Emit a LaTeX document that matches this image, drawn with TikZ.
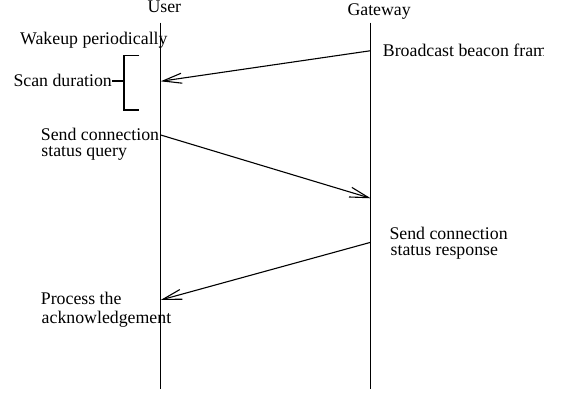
\documentclass[tikz,border=0pt]{standalone}
\usepackage{fontspec}
\setmainfont{Liberation Serif}
\usetikzlibrary{arrows.meta}
\begin{document}
\begin{tikzpicture}[x=1pt,y=-1pt,
  txt/.style={anchor=base west, inner sep=0pt, font=\fontsize{17.8}{16.5}\selectfont},
  lifeline/.style={line width=1.1pt},
  msg/.style={line width=1.1pt, -{Straight Barb[length=19pt,width=10pt,line width=1.1pt]}},
  bracketline/.style={line width=1.1pt}]
\useasboundingbox (0,0) rectangle (562,393);

% participants
\node[txt] (user) at (147.3,12.5) {User};
\node[txt] (gw) at (347.3,15.7) {Gateway};

% lifelines
\coordinate (uTop) at (160.7,22.7);
\coordinate (uBot) at (160.7,389);
\coordinate (gTop) at (370.7,22.7);
\coordinate (gBot) at (370.7,389);
\draw[lifeline] (uTop) -- (uBot);
\draw[lifeline] (gTop) -- (gBot);

% message end points on the lifelines
\coordinate (g1) at (370.7,50.7);
\coordinate (u1) at (160.7,81.3);
\coordinate (u2) at (160.7,135);
\coordinate (g2) at (370.7,198.3);
\coordinate (g3) at (370.7,242.3);
\coordinate (u3) at (160.7,300);

% messages
\draw[msg] (g1) -- (u1);
\draw[msg] (u2) -- (g2);
\draw[msg] (g3) -- (u3);

% annotations on the user side
\node[txt] (wake) at (20,45) {Wakeup periodically};
\node[txt] (scan) at (13.3,87) {Scan duration};
\node[txt] (query1) at (40.7,140.7) {Send connection};
\node[txt] (query2) at (41.2,156.9) {status query};
\node[txt] (proc1) at (40.7,304.3) {Process the};
\node[txt] (proc2) at (41.5,323.5) {acknowledgement};

% annotations on the gateway side (the beacon label runs past the drawing frame)
\begin{scope}
  \clip (0,0) rectangle (543.5,393);
  \node[txt] (beacon) at (382.7,56.5) {Broadcast beacon frame};
\end{scope}
\node[txt] (resp1) at (389.3,239) {Send connection};
\node[txt] (resp2) at (390.5,255.7) {status response};

% scan duration bracket
\coordinate (bTop) at (139.3,55.7);
\coordinate (bBot) at (139.3,110);
\coordinate (bMid) at (124,81);
\draw[bracketline] (bTop) -- (124,55.7) -- (124,110) -- (bBot);
\draw[bracketline] (scan.east |- bMid) -- (bMid);
\end{tikzpicture}
\end{document}
